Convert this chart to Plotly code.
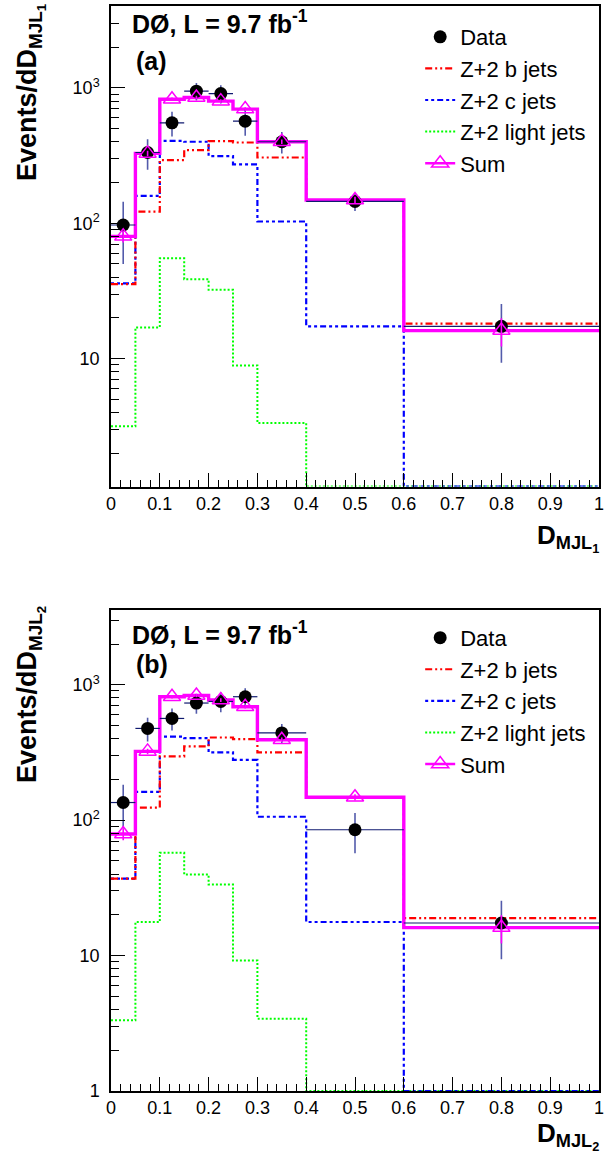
import plotly.graph_objects as go

# ---------------- data ----------------
edges = [0.0, 0.05, 0.1, 0.15, 0.2, 0.25, 0.3, 0.4, 0.6, 1.0]

# panel (a)
data_a = [97, 333, 552, 946, 908, 568, 400, 145, 17.3]
data_a_err = [47, 85, 115, 140, 140, 125, 72, 22, 8]
bjet_a = [35.5, 122, 293, 347, 404, 395, 306, 146, 18.1]
cjet_a = [36, 159, 406, 400, 313, 272, 103, 17.3, 0]
light_a = [3.16, 17, 55, 38.6, 32.2, 8.9, 3.34, 0, 0]
sum_a = [80, 328, 825, 849, 798, 697, 400, 148.6, 16.1]
sum_a_err = [8, 15, 25, 25, 25, 22, 15, 8, 3.8]

# panel (b)
data_b = [135, 476, 564, 733, 753, 816, 441, 85, 17.4]
data_b_err = [48, 95, 105, 122, 125, 125, 72, 28, 8]
bjet_b = [37, 124, 296, 351, 408, 397, 317, 146, 18.9]
cjet_b = [37, 162, 414, 404, 317, 279, 106, 17.7, 0]
light_b = [3.33, 17.7, 57.4, 39.7, 33.5, 9.2, 3.42, 0, 0]
sum_b = [79, 322, 816, 834, 771, 689, 393, 147.6, 16.1]
sum_b_err = [8, 15, 25, 25, 25, 22, 15, 8, 3.8]

xticks = [0, 0.1, 0.2, 0.3, 0.4, 0.5, 0.6, 0.7, 0.8, 0.9, 1.0]
yticks = [1, 10, 100, 1000]
yticklabels = ["1", "10", "10<sup>2</sup>", "10<sup>3</sup>"]

# ---------------- style ----------------
FONT = "Liberation Sans, Arial, sans-serif"
centers = [(a + b) / 2 for a, b in zip(edges[:-1], edges[1:])]
halfw = [(b - a) / 2 for a, b in zip(edges[:-1], edges[1:])]

W, H = 616, 1156
ML, MR, MT, MB = 110.5, 17, 4, 65
PH = H - MT - MB
top_dom = [(H - MB - 485.5) / PH, 1.0]
bot_dom = [0.0, (H - MB - 609) / PH]
range_a = [0.054, 3.605]
range_b = [0.0, 3.553]


def px_x(px):
    return (px - ML) / (W - ML - MR)


def px_y(py):
    return (H - MB - py) / PH


fig = go.Figure()


def add_panel(xa, ya, leg, data, derr, bj, cj, lj, sm, serr, floor):
    def step(vals):
        v = [max(x, floor) for x in vals]
        return v + [v[-1]]

    first = dict(xaxis=xa, yaxis=ya, legend=leg)
    fig.add_trace(go.Scatter(x=edges, y=step(lj), mode="lines", line_shape="hv",
                             line=dict(color="#00ff00", width=2, dash="2px,2px"),
                             name="Z+2 light jets", legendrank=4, **first))
    fig.add_trace(go.Scatter(x=edges, y=step(cj), mode="lines", line_shape="hv",
                             line=dict(color="#0000ff", width=2.2, dash="3px,3px,3px,3px,6px,3px"),
                             name="Z+2 c jets", legendrank=3, **first))
    fig.add_trace(go.Scatter(x=edges, y=step(bj), mode="lines", line_shape="hv",
                             line=dict(color="#ff0000", width=2.2, dash="7px,3px,2px,3px,2px,3px"),
                             name="Z+2 b jets", legendrank=2, **first))
    fig.add_trace(go.Scatter(x=edges, y=step(sm), mode="lines", line_shape="hv",
                             line=dict(color="#ff00ff", width=3.4),
                             showlegend=False, hoverinfo="skip", **first))
    fig.add_trace(go.Scatter(x=centers, y=data, mode="markers",
                             marker=dict(symbol="circle", size=13, color="black"),
                             error_y=dict(type="data", array=derr, color="rgba(40,50,150,0.8)",
                                          thickness=1.6, width=0),
                             error_x=dict(type="data", array=halfw, color="#101a70",
                                          thickness=1.2, width=0),
                             name="Data", legendrank=1, **first))
    fig.add_trace(go.Scatter(x=centers, y=sm, mode="markers",
                             marker=dict(symbol="triangle-up-open", size=15, color="#ff00ff",
                                         line=dict(width=1.5, color="#ff00ff")),
                             error_y=dict(type="data", array=serr, color="#ff00ff",
                                          thickness=1.6, width=0),
                             showlegend=False, **first))
    # legend entry for Sum (line + triangle)
    fig.add_trace(go.Scatter(x=[None], y=[None], mode="lines+markers",
                             line=dict(color="#ff00ff", width=2.5),
                             marker=dict(symbol="triangle-up-open", size=15, color="#ff00ff",
                                         line=dict(width=1.5, color="#ff00ff")),
                             name="Sum", legendrank=5, **first))


add_panel("x", "y", "legend", data_a, data_a_err, bjet_a, cjet_a, light_a, sum_a, sum_a_err,
          10 ** range_a[0])
add_panel("x2", "y2", "legend2", data_b, data_b_err, bjet_b, cjet_b, light_b, sum_b, sum_b_err,
          10 ** range_b[0])

xaxis_common = dict(range=[0, 1], tickvals=xticks, ticktext=[f"{t:g}" for t in xticks],
                    ticks="inside", ticklen=14, tickwidth=1, tickcolor="black",
                    minor=dict(dtick=0.02, tick0=0, ticks="inside", ticklen=7, tickcolor="black",
                               tickwidth=1, showgrid=False),
                    showline=True, linecolor="black", linewidth=1.5, mirror=True,
                    showgrid=False, zeroline=False,
                    tickfont=dict(family=FONT, size=18, color="black"))
yaxis_common = dict(type="log", tickvals=yticks, ticktext=yticklabels,
                    ticks="inside", ticklen=14, tickwidth=1, tickcolor="black",
                    minor=dict(ticks="inside", ticklen=8, tickcolor="black", tickwidth=1,
                               dtick="D1", showgrid=False),
                    showline=True, linecolor="black", linewidth=1.5, mirror=True,
                    showgrid=False, zeroline=False, ticklabelstandoff=6,
                    tickfont=dict(family=FONT, size=18, color="black"))

legend_common = dict(xanchor="left", yanchor="top", bgcolor="rgba(0,0,0,0)",
                     font=dict(family=FONT, size=22, color="black"),
                     itemwidth=30, tracegroupgap=0, traceorder="normal")

annotations = []
for (ytxt, yab, ytit, xtit, ysub) in [(20, 59, 0, 537, "1"), (632, 663, 603, 1136, "2")]:
    annotations.append(dict(text="<b>DØ, L = 9.7 fb<sup>-1</sup></b>", xref="paper", yref="paper",
                            x=px_x(130), y=px_y(ytxt), xanchor="left", yanchor="middle",
                            showarrow=False, font=dict(family=FONT, size=25, color="black")))
    annotations.append(dict(text="<b>(%s)</b>" % ("a" if ysub == "1" else "b"), xref="paper",
                            yref="paper", x=px_x(134), y=px_y(yab), xanchor="left",
                            yanchor="middle", showarrow=False,
                            font=dict(family=FONT, size=25, color="black")))
    annotations.append(dict(text="<b>Events/dD<sub>MJL<sub>%s</sub></sub></b>" % ysub,
                            xref="paper", yref="paper", x=px_x(30), y=px_y(ytit),
                            xanchor="center", yanchor="top", textangle=-90, showarrow=False,
                            font=dict(family=FONT, size=27, color="black")))
    annotations.append(dict(text="<b>D<sub>MJL<sub>%s</sub></sub></b>" % ysub,
                            xref="paper", yref="paper", x=px_x(601), y=px_y(xtit),
                            xanchor="right", yanchor="middle", showarrow=False,
                            font=dict(family=FONT, size=26, color="black")))

fig.update_layout(
    width=W, height=H,
    margin=dict(l=ML, r=MR, t=MT, b=MB),
    paper_bgcolor="white", plot_bgcolor="white",
    font=dict(family=FONT, color="black"),
    xaxis=dict(domain=[0, 1], anchor="y", **xaxis_common),
    yaxis=dict(domain=top_dom, anchor="x", range=range_a, **yaxis_common),
    xaxis2=dict(domain=[0, 1], anchor="y2", **xaxis_common),
    yaxis2=dict(domain=bot_dom, anchor="x2", range=range_b, **yaxis_common),
    legend=dict(x=px_x(420), y=px_y(14), **legend_common),
    legend2=dict(x=px_x(420), y=px_y(616), **legend_common),
    annotations=annotations,
    showlegend=True,
)

fig.write_html("out.html", post_script="document.body.style.margin='0px';",
               config={"displayModeBar": False})
